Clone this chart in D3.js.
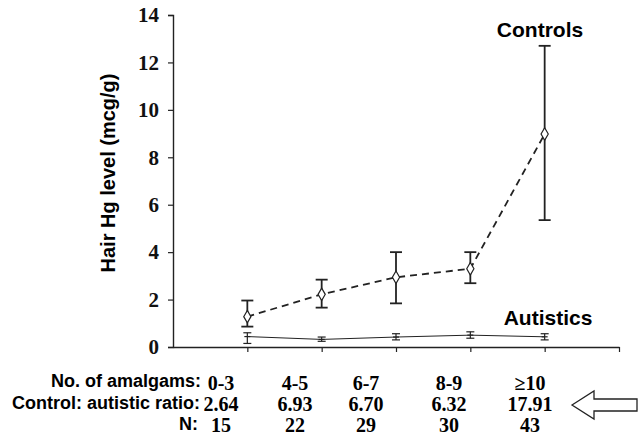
<!DOCTYPE html>
<html>
<head>
<meta charset="utf-8">
<script src="https://cdn.jsdelivr.net/npm/d3@7"></script>
<style>
body { margin: 0; background: #fff; }
svg { display: block; }
.sans { font-family: "Liberation Sans", Arial, sans-serif; font-weight: bold; }
.serif { font-family: "Liberation Serif", "Times New Roman", serif; font-weight: bold; }
</style>
</head>
<body>
<svg id="chart" width="641" height="444"></svg>
<script>
// categories and values
var groups = ['0-3', '4-5', '6-7', '8-9', '\u226510'];
var ratios = ['2.64', '6.93', '6.70', '6.32', '17.91'];
var counts = ['15', '22', '29', '30', '43'];

var controlMean = [1.28, 2.22, 2.94, 3.3, 8.98];
var controlLow = [0.86, 1.66, 1.84, 2.69, 5.35];
var controlHigh = [1.96, 2.84, 4.0, 4.0, 12.7];

var autMean = [0.44, 0.32, 0.42, 0.5, 0.43];
var autLow = [0.15, 0.24, 0.3, 0.37, 0.3];
var autHigh = [0.6, 0.42, 0.56, 0.64, 0.56];

var yTicks = [0, 2, 4, 6, 8, 10, 12, 14];

var svg = d3.select('#chart');

var x = d3.scaleLinear().domain([0, 6]).range([173, 619]);
var y = d3.scaleLinear().domain([0, 14]).range([347, 15]);

// axes
var yAxis = d3.axisLeft(y).tickValues(yTicks).tickSize(5).tickPadding(9);
var gy = svg.append('g').attr('transform', 'translate(173,0)').call(yAxis);
gy.select('.domain').attr('stroke', '#222').attr('stroke-width', 1.4);
gy.selectAll('.tick line').attr('stroke', '#222').attr('stroke-width', 1.2);
gy.selectAll('.tick text')
    .style('font-family', '"Liberation Serif", "Times New Roman", serif')
    .style('font-weight', 'bold')
    .style('font-size', '21px')
    .attr('fill', '#111');

var xAxis = d3.axisBottom(x).tickValues([1, 2, 3, 4, 5, 6]).tickSize(5).tickSizeOuter(0).tickFormat('');
var gx = svg.append('g').attr('transform', 'translate(0,347)').call(xAxis);
gx.select('.domain').attr('stroke', '#222').attr('stroke-width', 1.4);
gx.selectAll('.tick line').attr('stroke', '#222').attr('stroke-width', 1.2);

svg.append('text')
    .attr('class', 'sans')
    .attr('font-size', 20)
    .attr('text-anchor', 'middle')
    .attr('transform', 'translate(115,173) rotate(-90)')
    .text('Hair Hg level (mcg/g)');

var idx = d3.range(groups.length);

var line = d3.line()
    .x(function(d){ return x(d.i + 1); })
    .y(function(d){ return y(d.v); });

var drawSeries = function(mean, low, high, opts) {
    var pts = idx.map(function(i){ return {i: i, v: mean[i]}; });

    var g = svg.append('g');

    g.append('path')
        .datum(pts)
        .attr('d', line)
        .attr('fill', 'none')
        .attr('stroke', '#222')
        .attr('stroke-width', opts.lineWidth)
        .attr('stroke-dasharray', opts.dash);

    var bars = g.selectAll('.err').data(idx).enter().append('g');
    bars.append('line')
        .attr('x1', function(i){ return x(i + 1); })
        .attr('x2', function(i){ return x(i + 1); })
        .attr('y1', function(i){ return y(low[i]); })
        .attr('y2', function(i){ return y(high[i]); })
        .attr('stroke', '#222').attr('stroke-width', opts.barWidth);
    [low, high].forEach(function(arr){
        bars.append('line')
            .attr('x1', function(i){ return x(i + 1) - opts.cap; })
            .attr('x2', function(i){ return x(i + 1) + opts.cap; })
            .attr('y1', function(i){ return y(arr[i]); })
            .attr('y2', function(i){ return y(arr[i]); })
            .attr('stroke', '#222').attr('stroke-width', opts.barWidth);
    });

    if (opts.marker) {
        g.selectAll('.mk').data(pts).enter().append('path')
            .attr('d', d3.symbol().type(d3.symbolDiamond).size(45))
            .attr('transform', function(d){ return 'translate(' + x(d.i + 1) + ',' + y(d.v) + ')'; })
            .attr('fill', '#fff')
            .attr('stroke', '#222')
            .attr('stroke-width', 1.2);
    } else {
        g.selectAll('.mk').data(pts).enter().append('line')
            .attr('x1', function(d){ return x(d.i + 1) - 3; })
            .attr('x2', function(d){ return x(d.i + 1) + 3; })
            .attr('y1', function(d){ return y(d.v); })
            .attr('y2', function(d){ return y(d.v); })
            .attr('stroke', '#222').attr('stroke-width', 1.2);
    }
};

drawSeries(autMean, autLow, autHigh, {lineWidth: 1, dash: null, barWidth: 1.2, cap: 4, marker: false});
drawSeries(controlMean, controlLow, controlHigh, {lineWidth: 1.8, dash: '7,5', barWidth: 1.8, cap: 6, marker: true});

svg.append('text').attr('class', 'sans').attr('font-size', 21)
    .attr('text-anchor', 'middle').attr('x', 540).attr('y', 37).text('Controls');
svg.append('text').attr('class', 'sans').attr('font-size', 21)
    .attr('text-anchor', 'middle').attr('x', 548).attr('y', 325).text('Autistics');

// table under the chart
var col = d3.scaleLinear().domain([0, 1, 2, 3, 4]).range([221, 295, 366, 449, 530]);
var rows = [
    {label: 'No. of amalgams:', vals: groups, lx: 201, ly: 387, vy: 390},
    {label: 'Control: autistic ratio:', vals: ratios, lx: 200, ly: 409, vy: 411},
    {label: 'N:', vals: counts, lx: 198, ly: 430, vy: 432}
];
rows.forEach(function(r){
    svg.append('text').attr('class', 'sans').attr('font-size', 18)
        .attr('text-anchor', 'end').attr('x', r.lx).attr('y', r.ly).text(r.label);
    svg.selectAll(null).data(r.vals).enter().append('text')
        .attr('class', 'serif').attr('font-size', 20)
        .attr('text-anchor', 'middle')
        .attr('x', function(d, i){ return col(i); })
        .attr('y', r.vy)
        .text(function(d){ return d; });
});

// open arrow pointing at the ratio row
svg.append('path')
    .attr('d', 'M572,405 L594,391 L594,399 L637,399 L637,411 L594,411 L594,419 Z')
    .attr('fill', '#fff').attr('stroke', '#222').attr('stroke-width', 1.3);
</script>
</body>
</html>
